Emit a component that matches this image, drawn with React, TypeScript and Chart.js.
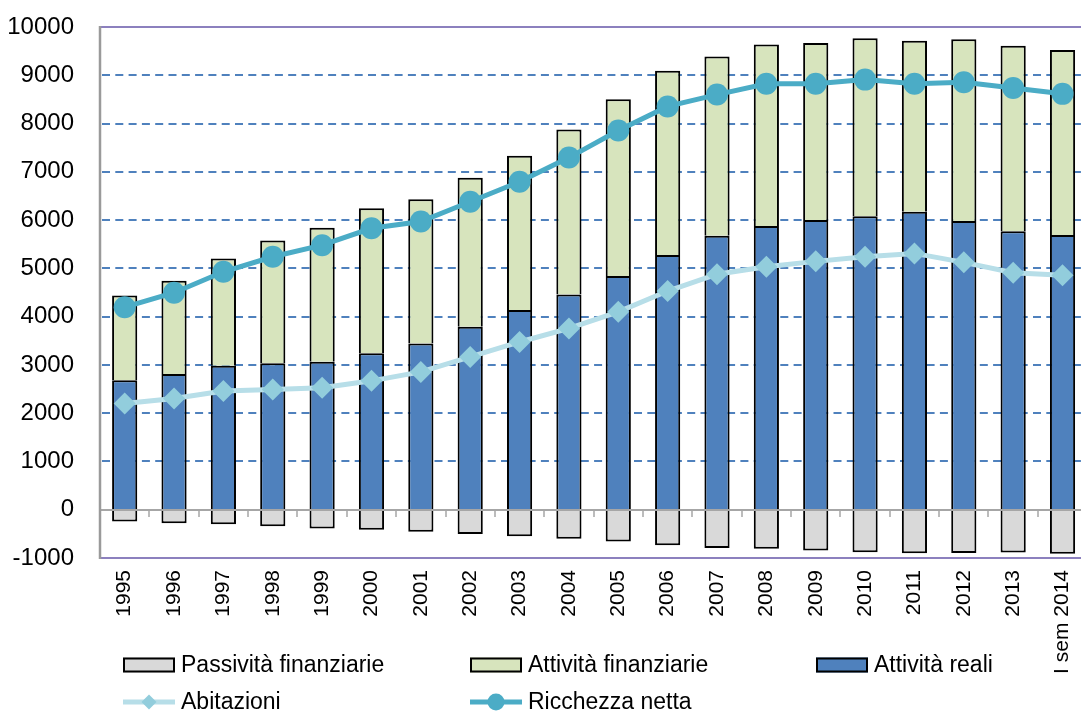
import React, { useEffect, useRef } from 'react';
import { Chart, registerables } from 'chart.js';

Chart.register(...registerables);

const categories = [
  '1995', '1996', '1997', '1998', '1999', '2000', '2001', '2002', '2003', '2004',
  '2005', '2006', '2007', '2008', '2009', '2010', '2011', '2012', '2013', 'I sem 2014',
];

const passivitaFinanziarie = [
  -245, -280, -300, -340, -390, -415, -455, -505, -550, -600,
  -660, -735, -795, -810, -845, -880, -900, -895, -885, -910,
];

const attivitaReali = [
  2680, 2810, 2980, 3035, 3065, 3240, 3445, 3790, 4135, 4460,
  4840, 5275, 5675, 5880, 6000, 6080, 6175, 5980, 5770, 5690,
];

const attivitaFinanziarie = [
  1760, 1935, 2225, 2540, 2775, 3005, 2985, 3085, 3200, 3415,
  3665, 3820, 3715, 3760, 3670, 3685, 3540, 3765, 3840, 3835,
];

const abitazioni = [
  2200, 2305, 2460, 2490, 2525, 2670, 2855, 3165, 3475, 3755,
  4100, 4530, 4880, 5035, 5145, 5240, 5310, 5125, 4910, 4855,
];

const ricchezzaNetta = [
  4195, 4495, 4930, 5240, 5480, 5830, 5970, 6380, 6795, 7295,
  7855, 8355, 8600, 8825, 8825, 8910, 8825, 8855, 8735, 8615,
];

const Y_MIN = -1000;
const Y_MAX = 10000;
const Y_STEP = 1000;

const legendOrder = [
  'Passività finanziarie',
  'Attività finanziarie',
  'Attività reali',
  'Abitazioni',
  'Ricchezza netta',
];
const legendColumns = [123, 470, 816];
const legendRows = [665, 702];

const FONT = '"Liberation Sans", Arial, sans-serif';

const framePlugin = {
  id: 'frame',
  beforeDatasetsDraw(chart: any) {
    const { ctx, chartArea: a, scales } = chart;
    const y = scales.y;
    ctx.save();
    ctx.strokeStyle = '#4F81BD';
    ctx.lineWidth = 2;
    ctx.setLineDash([8, 5.3]);
    for (const t of y.ticks) {
      if (t.value === Y_MIN || t.value === Y_MAX || t.value === 0) continue;
      const py = Math.round(y.getPixelForValue(t.value));
      ctx.beginPath();
      ctx.moveTo(a.left + 2, py);
      ctx.lineTo(a.right, py);
      ctx.stroke();
    }
    ctx.setLineDash([]);
    ctx.strokeStyle = '#8C80BE';
    ctx.lineWidth = 2;
    for (const v of [Y_MIN, Y_MAX]) {
      const py = Math.round(y.getPixelForValue(v));
      ctx.beginPath();
      ctx.moveTo(a.left, py);
      ctx.lineTo(a.right, py);
      ctx.stroke();
    }
    ctx.restore();
  },
  afterDatasetsDraw(chart: any) {
    const { ctx, chartArea: a, scales } = chart;
    const x = scales.x;
    const y = scales.y;
    ctx.save();
    const zy = Math.round(y.getPixelForValue(0));
    ctx.strokeStyle = '#A6A6A6';
    ctx.lineWidth = 2;
    ctx.beginPath();
    ctx.moveTo(a.left, zy);
    ctx.lineTo(a.right, zy);
    ctx.stroke();
    ctx.lineWidth = 1.5;
    const n = chart.data.labels.length;
    const half = (x.getPixelForValue(1) - x.getPixelForValue(0)) / 2;
    for (let i = 0; i < n; i++) {
      const bx = Math.round(x.getPixelForValue(i) + half);
      ctx.beginPath();
      ctx.moveTo(bx, zy);
      ctx.lineTo(bx, zy + 7);
      ctx.stroke();
    }
    ctx.strokeStyle = '#9A9A9A';
    ctx.lineWidth = 2.5;
    ctx.beginPath();
    ctx.moveTo(a.left, y.getPixelForValue(Y_MAX) - 1);
    ctx.lineTo(a.left, y.getPixelForValue(Y_MIN) + 1);
    ctx.stroke();
    ctx.restore();
  },
};

const legendPlugin = {
  id: 'customLegend',
  afterDraw(chart: any) {
    const { ctx } = chart;
    ctx.save();
    ctx.font = `23px ${FONT}`;
    ctx.textBaseline = 'middle';
    ctx.textAlign = 'left';
    legendOrder.forEach((label, idx) => {
      const ds = chart.data.datasets.find((d: any) => d.label === label);
      if (!ds) return;
      const col = idx < 3 ? idx : idx - 3;
      const row = idx < 3 ? 0 : 1;
      const lx = legendColumns[col];
      const ly = legendRows[row];
      const w = 52;
      if (ds.type === 'line') {
        ctx.strokeStyle = ds.borderColor;
        ctx.lineWidth = 5;
        ctx.beginPath();
        ctx.moveTo(lx, ly);
        ctx.lineTo(lx + w, ly);
        ctx.stroke();
        ctx.fillStyle = ds.pointBackgroundColor;
        const cx = lx + w / 2;
        ctx.beginPath();
        if (ds.pointStyle === 'rectRot') {
          const r = 7.5;
          ctx.moveTo(cx, ly - r);
          ctx.lineTo(cx + r, ly);
          ctx.lineTo(cx, ly + r);
          ctx.lineTo(cx - r, ly);
          ctx.closePath();
        } else {
          ctx.arc(cx, ly, 8.5, 0, Math.PI * 2);
        }
        ctx.fill();
      } else {
        ctx.fillStyle = ds.backgroundColor;
        ctx.fillRect(lx, ly - 7.5, w, 15);
        ctx.strokeStyle = '#000';
        ctx.lineWidth = 2;
        ctx.strokeRect(lx + 1, ly - 6.5, w - 2, 13);
      }
      ctx.fillStyle = '#000';
      ctx.fillText(label, lx + w + 6, ly + 1);
    });
    ctx.restore();
  },
};

export default function App() {
  const canvasRef = useRef<HTMLCanvasElement | null>(null);

  useEffect(() => {
    if (!canvasRef.current) return;
    Chart.defaults.font.family = FONT;
    const chart = new Chart(canvasRef.current, {
      type: 'bar',
      data: {
        labels: categories,
        datasets: [
          {
            type: 'line',
            label: 'Ricchezza netta',
            data: ricchezzaNetta,
            stack: 'rn',
            order: 0,
            borderColor: '#4BACC6',
            borderWidth: 5,
            pointStyle: 'circle',
            pointRadius: 11,
            pointBorderWidth: 0,
            pointBackgroundColor: '#4BACC6',
            pointBorderColor: '#4BACC6',
            tension: 0,
            fill: false,
          } as any,
          {
            type: 'line',
            label: 'Abitazioni',
            data: abitazioni,
            stack: 'ab',
            order: 1,
            borderColor: '#B7DEE8',
            borderWidth: 5,
            pointStyle: 'rectRot',
            pointRadius: 11,
            pointBorderWidth: 0,
            pointBackgroundColor: '#92CDDC',
            pointBorderColor: '#92CDDC',
            tension: 0,
            fill: false,
          } as any,
          {
            type: 'bar',
            label: 'Passività finanziarie',
            data: passivitaFinanziarie,
            order: 2,
            backgroundColor: '#D9D9D9',
            borderColor: '#000000',
            borderWidth: 2,
          },
          {
            type: 'bar',
            label: 'Attività reali',
            data: attivitaReali,
            order: 2,
            backgroundColor: '#4F81BD',
            borderColor: '#000000',
            borderWidth: 2,
          },
          {
            type: 'bar',
            label: 'Attività finanziarie',
            data: attivitaFinanziarie,
            order: 2,
            backgroundColor: '#D7E4BD',
            borderColor: '#000000',
            borderWidth: 2,
          },
        ],
      },
      options: {
        animation: false,
        responsive: false,
        devicePixelRatio: 1,
        datasets: {
          bar: {
            barPercentage: 0.51,
            categoryPercentage: 1,
          },
        },
        layout: { padding: { top: 27, right: 8, bottom: 0, left: 0 } },
        plugins: {
          legend: { display: false },
          tooltip: { enabled: false },
        },
        scales: {
          x: {
            stacked: true,
            grid: { display: false, drawTicks: false },
            border: { display: false },
            ticks: {
              autoSkip: false,
              minRotation: 90,
              maxRotation: 90,
              padding: 12,
              color: '#000000',
              font: { size: 21, family: FONT },
            },
            afterFit: (s: any) => {
              s.height = 153;
            },
          },
          y: {
            stacked: true,
            min: Y_MIN,
            max: Y_MAX,
            grid: { display: false, drawTicks: false },
            border: { display: false },
            ticks: {
              stepSize: Y_STEP,
              padding: 26,
              color: '#000000',
              font: { size: 24, family: FONT },
              callback: (v: any) => String(v),
            },
            afterFit: (s: any) => {
              s.width = 100;
              s.paddingTop = 0;
              s.paddingBottom = 0;
            },
          },
        },
      } as any,
      plugins: [framePlugin, legendPlugin],
    });
    return () => chart.destroy();
  }, []);

  return (
    <div
      style={{
        position: 'fixed',
        left: 0,
        top: 0,
        width: 1081,
        height: 711,
        overflow: 'hidden',
        background: '#ffffff',
      }}
    >
      <canvas
        ref={canvasRef}
        width={1100}
        height={711}
        style={{ display: 'block', width: 1100, height: 711 }}
      />
    </div>
  );
}
